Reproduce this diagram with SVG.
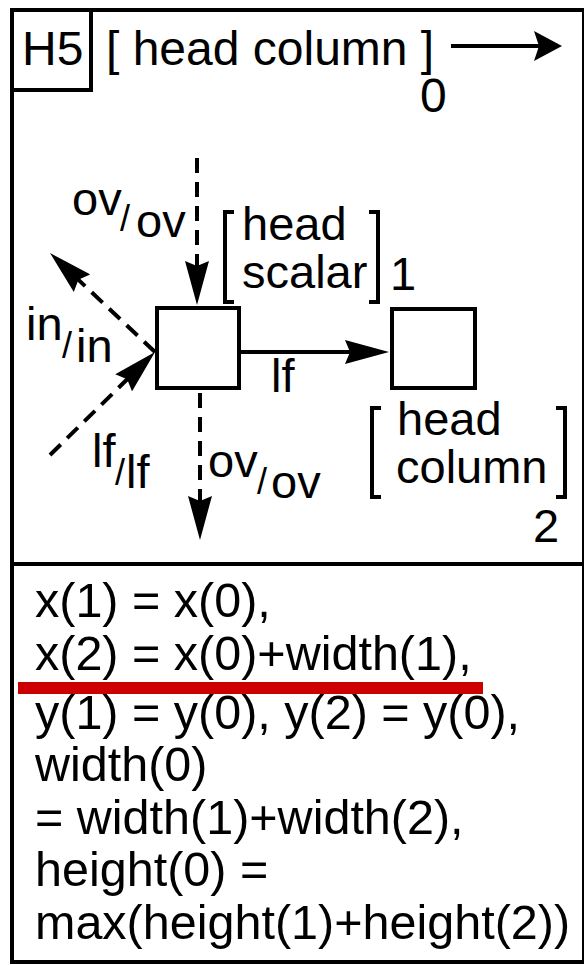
<svg xmlns="http://www.w3.org/2000/svg" width="584" height="965" viewBox="0 0 584 965">
<style>
  text { font-family: "Liberation Sans", Arial, Helvetica, sans-serif; fill: #000; }
  .big { font-size: 48px; }
  .eq { font-size: 48.5px; }
  .lbl { font-size: 47px; }
  .sl { font-size: 36px; }
  .frame { fill: none; stroke: #000; stroke-width: 4; }
  .node { fill: #fff; stroke: #000; stroke-width: 4; }
  .br { fill: none; stroke: #000; stroke-width: 4; }
  .solid { stroke: #000; stroke-width: 4; fill: none; }
  .dash { stroke: #000; stroke-width: 4; fill: none; stroke-dasharray: 15 9; }
</style>
<defs>
  <marker id="ah" markerUnits="userSpaceOnUse" viewBox="0 0 44 24" markerWidth="44" markerHeight="24" refX="34" refY="12" orient="auto">
    <path d="M0,0 L44,12 L0,24 L5,12 Z" fill="#000" stroke="none"/>
  </marker>
  <marker id="ah2" markerUnits="userSpaceOnUse" viewBox="0 0 28 30" markerWidth="28" markerHeight="30" refX="18" refY="15" orient="auto">
    <path d="M0,0 L28,15 L0,30 L5,15 Z" fill="#000" stroke="none"/>
  </marker>
</defs>
<rect width="584" height="965" fill="#fff"/>

<g id="frame">
  <rect class="frame" x="12" y="10" width="572" height="952"/>
  <line class="frame" x1="12" y1="564" x2="584" y2="564"/>
  <rect class="frame" x="12" y="10" width="79" height="80"/>
  <text class="big" x="22" y="65">H5</text>
  <text class="big" x="106" y="65">[ head column ]</text>
  <text class="big" x="420" y="112">0</text>
</g>

<g id="connectors">
  <line class="solid" x1="451" y1="46" x2="552" y2="46" marker-end="url(#ah2)"/>
  <line class="solid" x1="239" y1="352" x2="379" y2="352" marker-end="url(#ah)"/>
  <line class="dash" x1="197" y1="158" x2="197" y2="295" marker-end="url(#ah)"/>
  <line class="dash" x1="200" y1="393" x2="200" y2="530" marker-end="url(#ah)"/>
  <line class="dash" x1="155" y1="352" x2="57.3" y2="259.9" marker-end="url(#ah)"/>
  <line class="dash" x1="50" y1="455" x2="147.9" y2="359" marker-end="url(#ah)"/>
</g>

<g id="labels">
  <text class="lbl" x="72" y="215">ov</text>
  <text class="sl" x="120" y="231">/</text>
  <text class="lbl" x="136" y="237">ov</text>

  <text class="lbl" x="26" y="340">in</text>
  <text class="sl" x="62" y="358">/</text>
  <text class="lbl" x="76" y="362">in</text>

  <text class="lbl" x="92" y="467">lf</text>
  <text class="sl" x="115" y="485">/</text>
  <text class="lbl" x="126" y="488">lf</text>

  <text class="lbl" x="208" y="477">ov</text>
  <text class="sl" x="257" y="494">/</text>
  <text class="lbl" x="271" y="498">ov</text>

  <text class="lbl" x="271" y="392">lf</text>
</g>

<g id="node1">
  <rect class="node" x="157" y="308" width="82" height="80"/>
  <path class="br" d="M234,212 H225 V302 H234"/>
  <path class="br" d="M369,212 H378 V302 H369"/>
  <text class="lbl" x="242" y="240">head</text>
  <text class="lbl" x="242" y="288">scalar</text>
  <text class="lbl" x="390" y="290">1</text>
</g>

<g id="node2">
  <rect class="node" x="392" y="309" width="83" height="79"/>
  <path class="br" d="M381,408 H372 V497 H381"/>
  <path class="br" d="M556,408 H565 V497 H556"/>
  <text class="lbl" x="397" y="435">head</text>
  <text class="lbl" x="396" y="483">column</text>
  <text class="lbl" x="533" y="542">2</text>
</g>

<g id="equations">
  <text class="eq" x="35" y="617">x(1) = x(0),</text>
  <text class="eq" x="35" y="670">x(2) = x(0)+width(1),</text>
  <text class="eq" x="35" y="729">y(1) = y(0), y(2) = y(0),</text>
  <text class="eq" x="35" y="781">width(0)</text>
  <text class="eq" x="35" y="834">= width(1)+width(2),</text>
  <text class="eq" x="35" y="886">height(0) =</text>
  <text class="eq" x="35" y="939">max(height(1)+height(2))</text>
  <rect x="18" y="682" width="465" height="12" fill="#cc0000"/>
</g>
</svg>
